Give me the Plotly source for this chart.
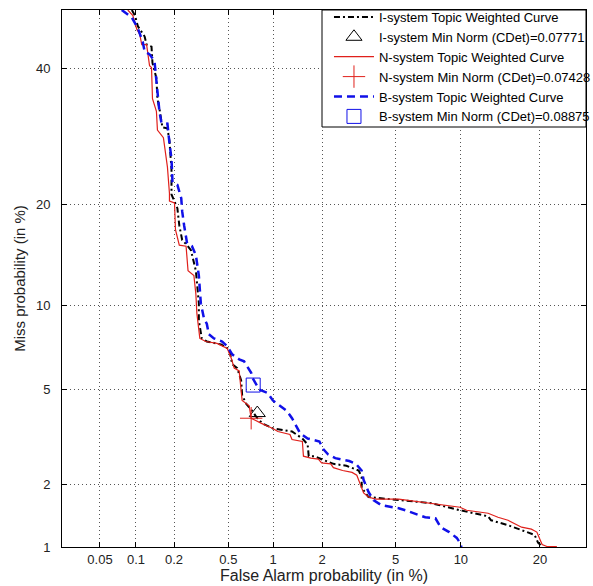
import plotly.graph_objects as go
from statistics import NormalDist

nd = NormalDist()


def pr(vals):
    return [nd.inv_cdf(v / 100.0) for v in vals]


# ---- data (percent) ----
i_fa = [0.0926, 0.0981, 0.1037, 0.1114, 0.1176, 0.1219, 0.1334, 0.1358, 0.1459, 0.1486,
        0.154, 0.1626, 0.1779, 0.1844, 0.1912, 0.1912, 0.2121, 0.2194, 0.2307, 0.2510,
        0.2684, 0.2920, 0.2970, 0.3071, 0.3071, 0.3229, 0.3513, 0.4444, 0.508, 0.532,
        0.5756, 0.613, 0.6225, 0.6626, 0.728, 0.7873, 0.851, 0.9953, 1.316, 1.524,
        1.6405, 1.665, 1.791, 1.985, 2.324, 2.750, 2.957, 3.215, 3.334, 3.334,
        3.627, 5.182, 7.408, 9.925, 12.93, 13.28, 15.41, 17.27, 19.19, 19.71, 20.35]
i_miss = [50.0, 49.05, 47.20, 46.30, 45.42, 44.04, 43.70, 40.93, 38.39, 35.04,
          33.47, 30.55, 30.41, 28.53, 24.53, 21.21, 19.53, 17.53, 15.95, 15.42,
          14.90, 12.93, 11.92, 10.20, 8.91, 7.74, 7.55, 7.37, 7.07, 6.25,
          6.04, 5.43, 4.763, 4.408, 4.119, 3.849, 3.666, 3.493, 3.392, 3.170,
          2.991, 2.662, 2.662, 2.586, 2.464, 2.416, 2.370, 2.302, 2.151, 1.925,
          1.743, 1.686, 1.632, 1.511, 1.414, 1.353, 1.281, 1.212, 1.148, 1.051, 1.006]

n_fa = [0.0857, 0.0944, 0.0981, 0.1018, 0.1075, 0.1114, 0.1219, 0.1287, 0.1334, 0.1358,
        0.1459, 0.1486, 0.1655, 0.1716, 0.1779, 0.1844, 0.1844, 0.2017, 0.2051, 0.2194,
        0.2468, 0.2553, 0.2823, 0.2920, 0.2970, 0.3123, 0.3454, 0.4159, 0.4913, 0.524,
        0.549, 0.594, 0.613, 0.6225, 0.6946, 0.7166, 0.838, 0.9953, 1.0715, 1.278,
        1.316, 1.524, 1.547, 1.714, 1.9, 1.985, 2.242, 2.324, 2.621, 2.957,
        3.139, 3.294, 3.416, 3.627, 3.946, 5.182, 6.229, 7.736, 9.925, 10.57,
        12.93, 14.12, 15.41, 17.27, 18.70, 19.53, 20.04, 20.35, 21.12, 22.75]
n_miss = [50.0, 49.05, 47.75, 46.65, 45.77, 44.04, 44.04, 40.47, 40.15, 35.04,
          33.02, 30.14, 29.01, 26.68, 24.80, 21.33, 20.40, 20.17, 17.06, 15.42,
          15.31, 12.93, 12.50, 10.92, 9.44, 7.74, 7.55, 7.43, 7.13, 6.57,
          6.04, 5.90, 5.13, 4.538, 4.324, 3.849, 3.666, 3.493, 3.392, 3.295,
          3.139, 3.079, 2.662, 2.611, 2.586, 2.488, 2.464, 2.370, 2.302, 2.258,
          2.193, 1.989, 1.822, 1.743, 1.705, 1.705, 1.668, 1.614, 1.562, 1.511,
          1.462, 1.399, 1.353, 1.253, 1.226, 1.186, 1.086, 1.028, 1.006, 1.006]

b_fa = [0.0764, 0.0926, 0.1037, 0.1134, 0.1176, 0.1287, 0.1408, 0.1459, 0.154, 0.1597,
        0.1779, 0.1844, 0.1912, 0.1946, 0.2121, 0.2269, 0.2307, 0.2386, 0.2510, 0.2730,
        0.2920, 0.3071, 0.3123, 0.3175, 0.3340, 0.3513, 0.3633, 0.3952, 0.4519, 0.4913,
        0.532, 0.594, 0.642, 0.7166, 0.728, 0.812, 0.9204, 0.9953, 1.223, 1.316,
        1.480, 1.6405, 1.928, 2.036, 2.163, 2.381, 2.852, 3.102, 3.334, 3.416,
        3.627, 3.851, 4.241, 5.182, 5.590, 6.942, 7.736, 8.167, 8.907, 9.607,
        10.03, 10.03]
b_miss = [50.0, 48.68, 46.83, 44.56, 42.87, 42.38, 41.25, 37.35, 33.02, 31.26,
          31.12, 28.21, 25.94, 22.81, 22.43, 20.74, 19.14, 17.53, 15.63, 15.31,
          14.41, 12.50, 10.92, 10.20, 9.13, 8.69, 8.00, 7.74, 7.55, 7.25,
          6.79, 6.51, 6.40, 5.80, 5.57, 5.00, 4.857, 4.538, 4.119, 3.849,
          3.328, 3.170, 3.079, 2.849, 2.714, 2.611, 2.536, 2.464, 2.302, 2.089,
          1.842, 1.686, 1.596, 1.545, 1.511, 1.399, 1.384, 1.253, 1.186, 1.110,
          1.028, 0.99]

i_min = (0.7873, 4.040)
n_min = (0.7166, 3.849)
b_min = (0.7393, 5.21)

names = ["I-system Topic Weighted Curve", "I-system Min Norm (CDet)=0.07771",
         "N-system Topic Weighted Curve", "N-system Min Norm (CDet)=0.07428",
         "B-system Topic Weighted Curve", "B-system Min Norm (CDet)=0.08875"]

x_ticks = [0.05, 0.1, 0.2, 0.5, 1, 2, 5, 10, 20]
x_tick_text = ["0.05", "0.1", "0.2", "0.5", "1", "2", "5", "10", "20"]
y_ticks = [1, 2, 5, 10, 20, 40]
y_tick_text = ["1", "2", "5", "10", "20", "40"]

x_lim = [0.0231, 27.93]
y_lim = [1.0, 50.0]

fig = go.Figure()

fig.add_trace(go.Scatter(x=pr(i_fa), y=pr(i_miss), mode="lines", name=names[0],
                         line=dict(color="black", width=2, dash="6px,3px,2px,3px")))
fig.add_trace(go.Scatter(x=pr([i_min[0]]), y=pr([i_min[1]]), mode="markers", name=names[1],
                         marker=dict(symbol="triangle-up-open", size=14, color="black",
                                     line=dict(width=1, color="black"))))
fig.add_trace(go.Scatter(x=pr(n_fa), y=pr(n_miss), mode="lines", name=names[2],
                         line=dict(color="#e0201b", width=1.2)))
fig.add_trace(go.Scatter(x=pr([n_min[0]]), y=pr([n_min[1]]), mode="markers", name=names[3],
                         marker=dict(symbol="cross-thin-open", size=16, color="#e0201b",
                                     line=dict(width=1, color="#e0201b"))))
fig.add_trace(go.Scatter(x=pr(b_fa), y=pr(b_miss), mode="lines", name=names[4],
                         line=dict(color="#1010e8", width=2.5, dash="8px,5px")))
fig.add_trace(go.Scatter(x=pr([b_min[0]]), y=pr([b_min[1]]), mode="markers", name=names[5],
                         marker=dict(symbol="square-open", size=14, color="#1010e8",
                                     line=dict(width=1, color="#1010e8"))))

axis_common = dict(
    showline=True, linecolor="black", linewidth=1, mirror="ticks",
    ticks="inside", ticklen=5, tickcolor="black",
    showgrid=True, gridcolor="#555555", gridwidth=1, griddash="1px,3px",
    zeroline=False,
    tickfont=dict(family="Liberation Sans, Arial", size=13, color="#222222"),
)

fig.update_xaxes(
    range=[nd.inv_cdf(x_lim[0] / 100), nd.inv_cdf(x_lim[1] / 100)],
    tickvals=pr(x_ticks), ticktext=x_tick_text,
    title=dict(text="False Alarm probability (in %)",
               font=dict(family="Liberation Sans, Arial", size=16, color="#222222"),
               standoff=3),
    ticklabelstandoff=0,
    **axis_common,
)
fig.update_yaxes(
    range=[nd.inv_cdf(y_lim[0] / 100), nd.inv_cdf(y_lim[1] / 100)],
    tickvals=pr(y_ticks), ticktext=y_tick_text,
    title=dict(text="Miss probability (in %)",
               font=dict(family="Liberation Sans, Arial", size=15, color="#222222"),
               standoff=6),
    ticklabelstandoff=8,
    **axis_common,
)

# legend frame (drawn as a shape so the box hugs the rows like the original)
fig.add_shape(type="rect", xref="paper", yref="paper",
              x0=0.4962, x1=1.0, y0=0.7821, y1=1.0,
              fillcolor="white", line=dict(color="black", width=1), layer="above")

fig.update_layout(
    width=593, height=586,
    margin=dict(l=62, r=7, t=10, b=39, autoexpand=False),
    plot_bgcolor="white", paper_bgcolor="white",
    font=dict(family="Liberation Sans, Arial", size=12, color="black"),
    legend=dict(x=0.5095, y=1.015, xanchor="left", yanchor="top",
                bgcolor="rgba(0,0,0,0)", borderwidth=0,
                font=dict(family="Liberation Sans, Arial", size=13, color="black"),
                tracegroupgap=0, itemwidth=40),
    showlegend=True,
)

fig.write_html("out.html")
